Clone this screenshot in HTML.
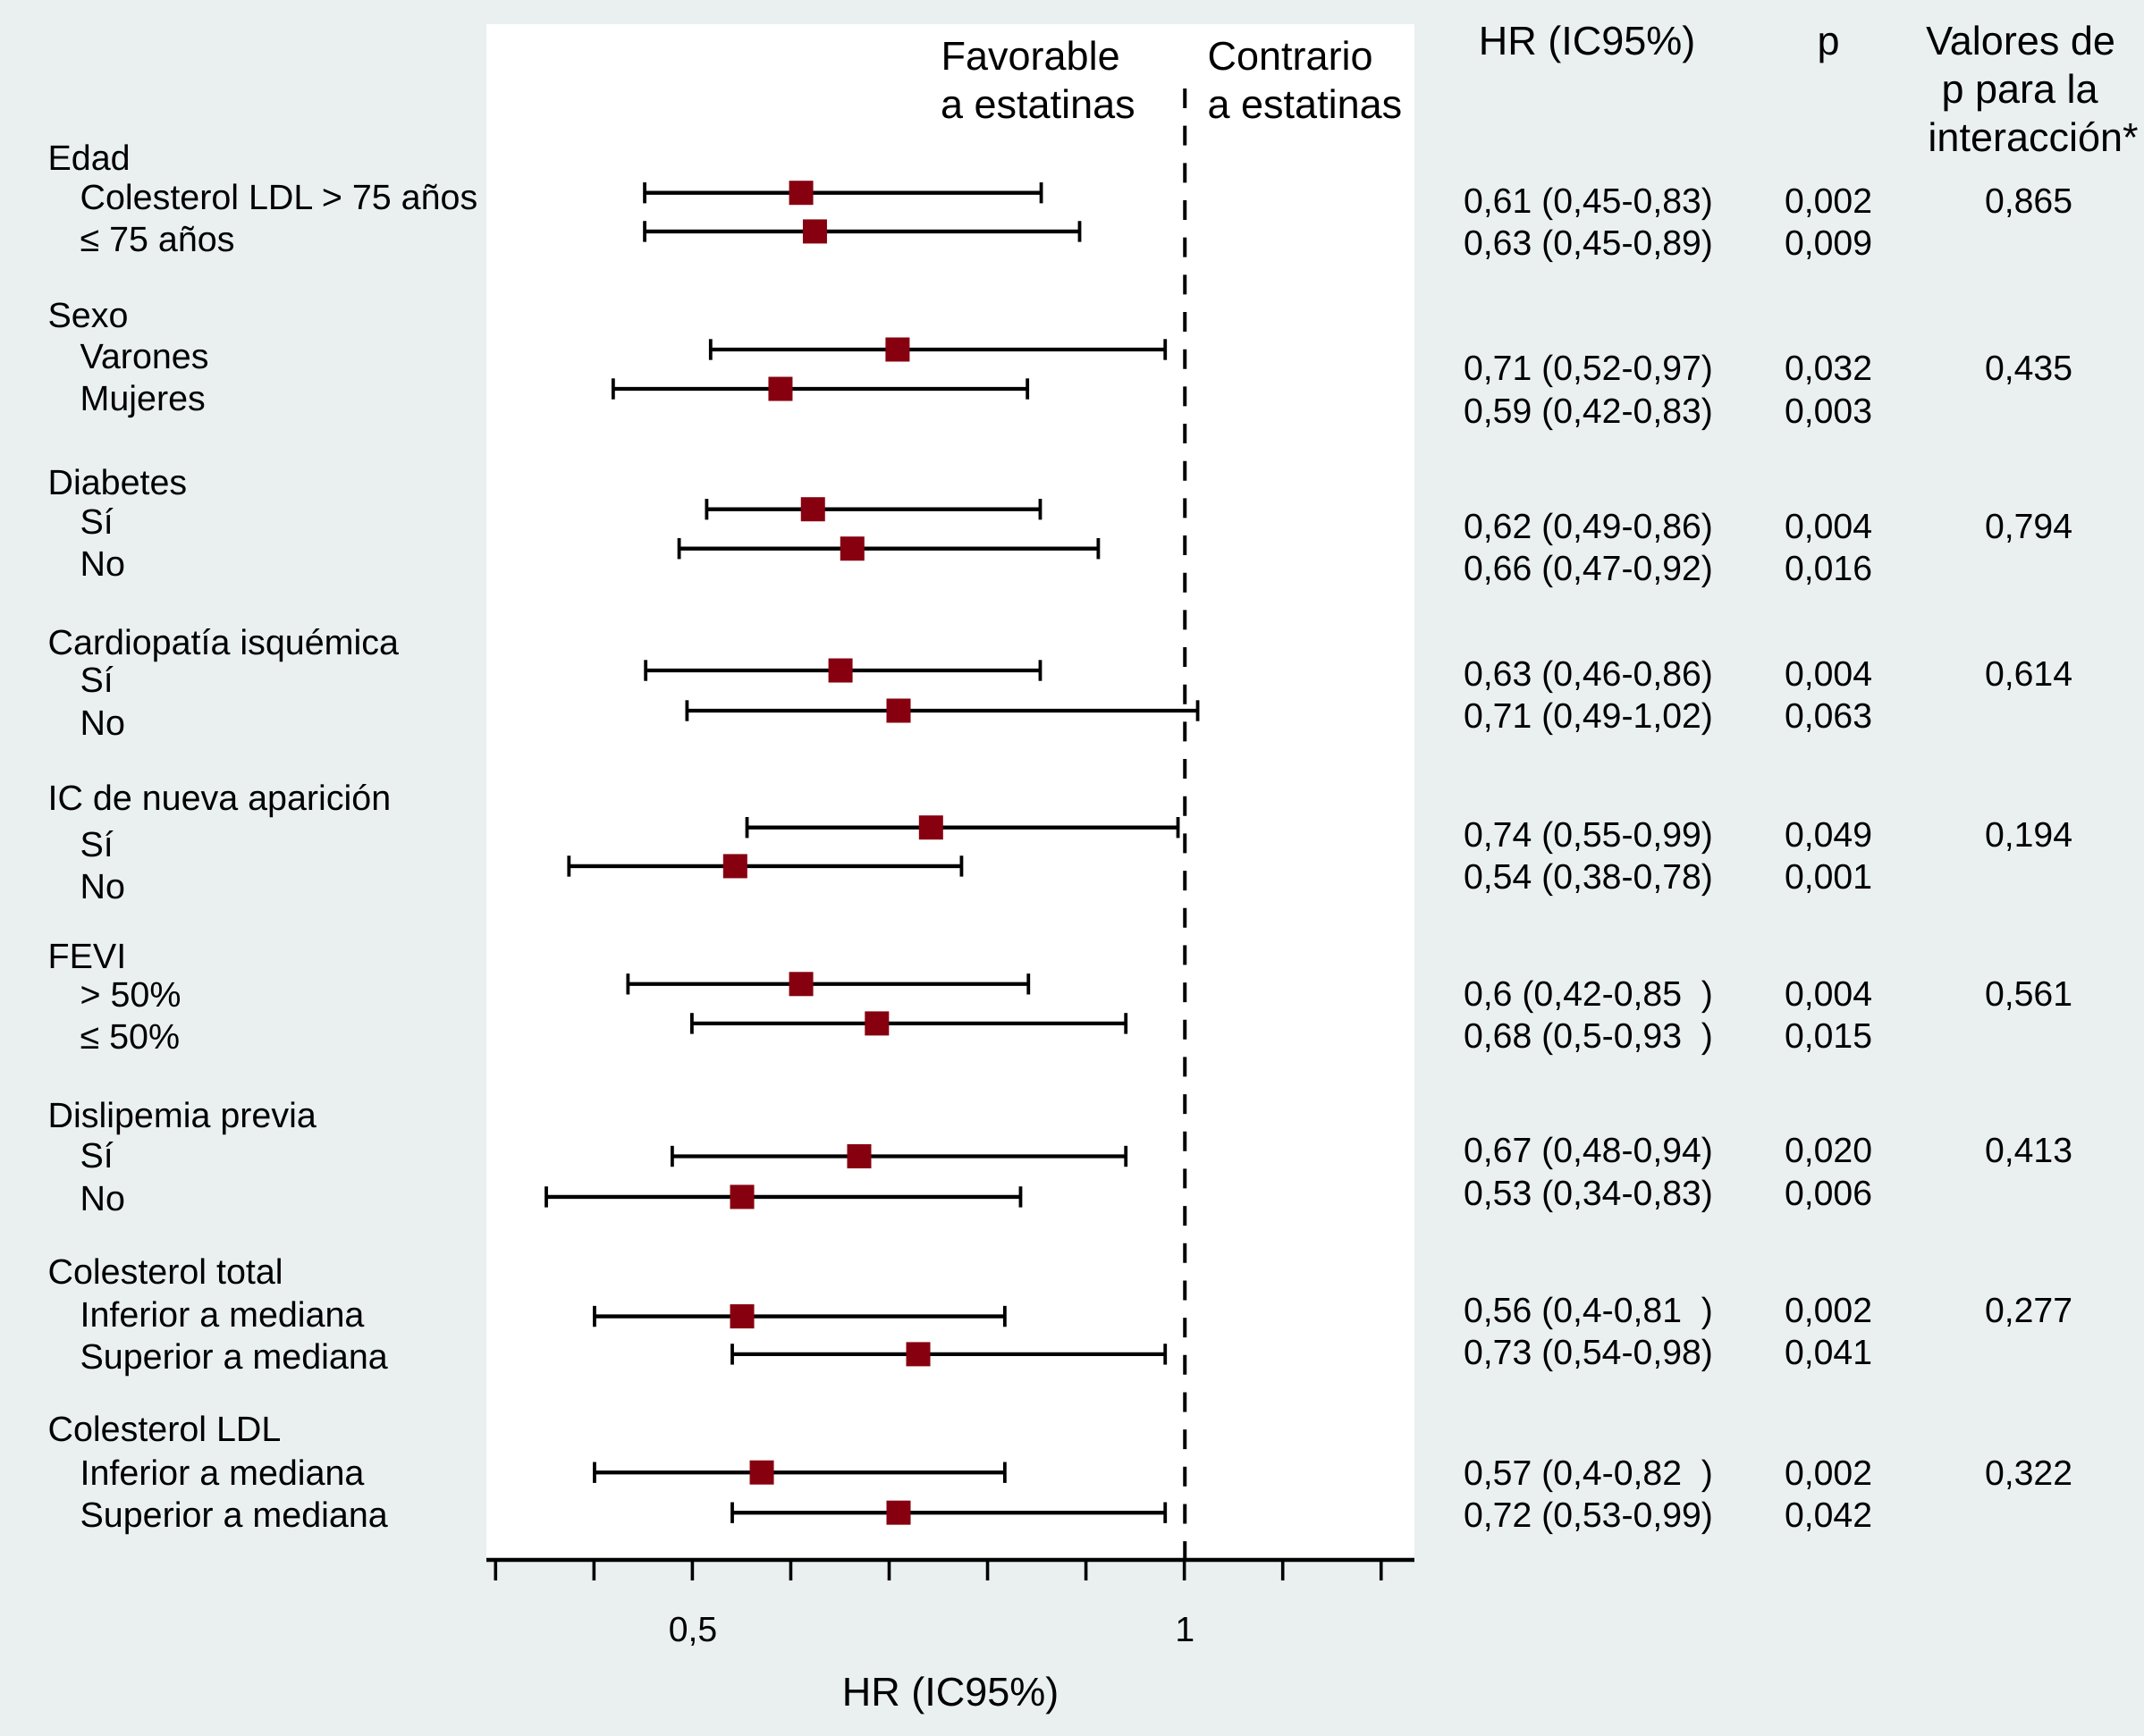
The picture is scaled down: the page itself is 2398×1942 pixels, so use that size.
<!DOCTYPE html>
<html lang="es">
<head>
<meta charset="utf-8">
<title>Forest plot HR (IC95%)</title>
<style>
html,body{margin:0;padding:0;background:#eaf0f0;width:2398px;height:1942px;overflow:hidden}
svg{display:block}
text{font-family:"Liberation Sans",Arial,sans-serif;fill:#000;text-rendering:geometricPrecision;white-space:pre}
.b{font-size:39.2px}
.l{font-size:39.45px}
.h{font-size:45px}
.m{text-anchor:middle}
</style>
</head>
<body>
<svg id="chart" xmlns="http://www.w3.org/2000/svg" width="2398" height="1942" viewBox="0 0 2398 1942">
<rect x="0" y="0" width="2398" height="1942" fill="#eaf0f0"/>
<rect x="544" y="27" width="1038" height="1718" fill="#ffffff"/>
<g id="marks"></g>

<g>
<text class="h" x="1052.5" y="78">Favorable</text>
<text class="h" x="1052" y="132">a estatinas</text>
<text class="h" x="1350.5" y="78">Contrario</text>
<text class="h" x="1350.5" y="132">a estatinas</text>
</g>

<g>
<text class="h m" x="1775" y="61">HR (IC95%)</text>
<text class="h m" x="2045" y="61">p</text>
<text class="h m" x="2260" y="61">Valores de</text>
<text class="h m" x="2259" y="115">p para la</text>
<text class="h m" x="2274" y="169">interacción*</text>
</g>

<g transform="translate(-0.5,1)">
<text class="l" x="54" y="189">Edad</text>
<text class="l" x="90" y="233">Colesterol LDL &gt; 75 años</text>
<text class="l" x="90" y="280">≤ 75 años</text>
<text class="l" x="54" y="365">Sexo</text>
<text class="l" x="90" y="411">Varones</text>
<text class="l" x="90" y="458">Mujeres</text>
<text class="l" x="54" y="552">Diabetes</text>
<text class="l" x="90" y="596">Sí</text>
<text class="l" x="90" y="643">No</text>
<text class="l" x="54" y="731">Cardiopatía isquémica</text>
<text class="l" x="90" y="773">Sí</text>
<text class="l" x="90" y="821">No</text>
<text class="l" x="54" y="905">IC de nueva aparición</text>
<text class="l" x="90" y="957">Sí</text>
<text class="l" x="90" y="1004">No</text>
<text class="l" x="54" y="1082">FEVI</text>
<text class="l" x="90" y="1125">&gt; 50%</text>
<text class="l" x="90" y="1172">≤ 50%</text>
<text class="l" x="54" y="1260">Dislipemia previa</text>
<text class="l" x="90" y="1305">Sí</text>
<text class="l" x="90" y="1353">No</text>
<text class="l" x="54" y="1435">Colesterol total</text>
<text class="l" x="90" y="1483">Inferior a mediana</text>
<text class="l" x="90" y="1530">Superior a mediana</text>
<text class="l" x="54" y="1611">Colesterol LDL</text>
<text class="l" x="90" y="1660">Inferior a mediana</text>
<text class="l" x="90" y="1707">Superior a mediana</text>
</g>

<g transform="translate(0,1)">
<text class="b" x="1637" y="237">0,61 (0,45-0,83)</text>
<text class="b" x="1637" y="284">0,63 (0,45-0,89)</text>
<text class="b" x="1637" y="424">0,71 (0,52-0,97)</text>
<text class="b" x="1637" y="472">0,59 (0,42-0,83)</text>
<text class="b" x="1637" y="601">0,62 (0,49-0,86)</text>
<text class="b" x="1637" y="648">0,66 (0,47-0,92)</text>
<text class="b" x="1637" y="766">0,63 (0,46-0,86)</text>
<text class="b" x="1637" y="813">0,71 (0,49-1,02)</text>
<text class="b" x="1637" y="946">0,74 (0,55-0,99)</text>
<text class="b" x="1637" y="993">0,54 (0,38-0,78)</text>
<text class="b" x="1637" y="1124">0,6 (0,42-0,85  )</text>
<text class="b" x="1637" y="1171">0,68 (0,5-0,93  )</text>
<text class="b" x="1637" y="1299">0,67 (0,48-0,94)</text>
<text class="b" x="1637" y="1347">0,53 (0,34-0,83)</text>
<text class="b" x="1637" y="1478">0,56 (0,4-0,81  )</text>
<text class="b" x="1637" y="1525">0,73 (0,54-0,98)</text>
<text class="b" x="1637" y="1660">0,57 (0,4-0,82  )</text>
<text class="b" x="1637" y="1707">0,72 (0,53-0,99)</text>
</g>

<g transform="translate(0,1)">
<text class="b m" x="2045" y="237">0,002</text>
<text class="b m" x="2045" y="284">0,009</text>
<text class="b m" x="2045" y="424">0,032</text>
<text class="b m" x="2045" y="472">0,003</text>
<text class="b m" x="2045" y="601">0,004</text>
<text class="b m" x="2045" y="648">0,016</text>
<text class="b m" x="2045" y="766">0,004</text>
<text class="b m" x="2045" y="813">0,063</text>
<text class="b m" x="2045" y="946">0,049</text>
<text class="b m" x="2045" y="993">0,001</text>
<text class="b m" x="2045" y="1124">0,004</text>
<text class="b m" x="2045" y="1171">0,015</text>
<text class="b m" x="2045" y="1299">0,020</text>
<text class="b m" x="2045" y="1347">0,006</text>
<text class="b m" x="2045" y="1478">0,002</text>
<text class="b m" x="2045" y="1525">0,041</text>
<text class="b m" x="2045" y="1660">0,002</text>
<text class="b m" x="2045" y="1707">0,042</text>
</g>

<g transform="translate(0,1)">
<text class="b m" x="2269" y="237">0,865</text>
<text class="b m" x="2269" y="424">0,435</text>
<text class="b m" x="2269" y="601">0,794</text>
<text class="b m" x="2269" y="766">0,614</text>
<text class="b m" x="2269" y="946">0,194</text>
<text class="b m" x="2269" y="1124">0,561</text>
<text class="b m" x="2269" y="1299">0,413</text>
<text class="b m" x="2269" y="1478">0,277</text>
<text class="b m" x="2269" y="1660">0,322</text>
</g>

<text class="h m" x="1063" y="1908">HR (IC95%)</text>
</svg>

<script>
// Subgroups, top to bottom
const categories = ["edad-mayor-75","edad-menor-75","varones","mujeres","diabetes-si","diabetes-no","cardiopatia-si","cardiopatia-no","ic-si","ic-no","fevi-mayor-50","fevi-menor-50","dislipemia-si","dislipemia-no","ct-inferior","ct-superior","ldl-inferior","ldl-superior"];
// Vertical row coordinate of each subgroup, in row units
const rowValues = [0,0.98,3.975,4.973,8.027,9.025,12.116,13.136,16.1,17.08,20.07,21.07,24.44,25.47,28.5,29.46,32.46,33.48];
// HR estimates
const hrValues = [0.610,0.624,0.708,0.589,0.622,0.662,0.650,0.709,0.742,0.543,0.610,0.687,0.669,0.550,0.550,0.729,0.570,0.709];
const ciLower = [0.451,0.451,0.518,0.419,0.514,0.486,0.452,0.494,0.555,0.374,0.434,0.499,0.479,0.351,0.400,0.540,0.400,0.540];
const ciUpper = [0.854,0.893,0.980,0.840,0.853,0.912,0.853,1.013,0.993,0.773,0.841,0.940,0.940,0.833,0.817,0.980,0.817,0.980];
// X axis ticks
const tickValues = [0.3,0.4,0.5,0.6,0.7,0.8,0.9,1,1.1,1.2];
const labeledTicks = [0.5,1];
const tickLabels = ["0,5","1"];
const referenceValue = 1;

const NS = "http://www.w3.org/2000/svg";
const marks = document.getElementById("marks");
function xScale(v){ return 775 + (v - 0.5) * 1100.5; }
function yScale(r){ return 215.7 + r * 44.1; }
function shape(tag, attrs){
  const el = document.createElementNS(NS, tag);
  for (const k in attrs) el.setAttribute(k, attrs[k]);
  marks.appendChild(el);
  return el;
}

// reference line
const refLine = shape("line", {x1:xScale(referenceValue),x2:xScale(referenceValue),y1:99,y2:1745,stroke:"#000","stroke-width":4,"stroke-dasharray":"22 19.67"});



// x axis
const axisLine = shape("line", {x1:544,x2:1582,y1:1745,y2:1745,stroke:"#000","stroke-width":4.6});


tickValues.forEach(function(t){
  const tick = shape("line", {x1:xScale(t) - 0.6,x2:xScale(t) - 0.6,y1:1745,y2:1768,stroke:"#000","stroke-width":3.6});
  
  
});
labeledTicks.forEach(function(t,i){
  const lab = shape("text", {x:xScale(t),y:1836,class:"b m"});
  lab.textContent = tickLabels[i];
  
  
});

// error bars and markers
categories.forEach(function(c,i){
  const y = yScale(rowValues[i]);
  const lo = xScale(ciLower[i]), hi = xScale(ciUpper[i]), m = xScale(hrValues[i]);
  const bar = shape("line", {x1:lo,x2:hi,y1:y,y2:y,stroke:"#000","stroke-width":4.3});
  
  
  const capL = shape("line", {x1:lo,x2:lo,y1:y-11.7,y2:y+11.7,stroke:"#000","stroke-width":3.8});
  
  
  const capH = shape("line", {x1:hi,x2:hi,y1:y-11.7,y2:y+11.7,stroke:"#000","stroke-width":3.8});
  
  
  const pt = shape("rect", {x:m-13.5,y:y-13.5,width:27,height:27,fill:"#87000f"});
  
  
});
</script>
</body>
</html>
